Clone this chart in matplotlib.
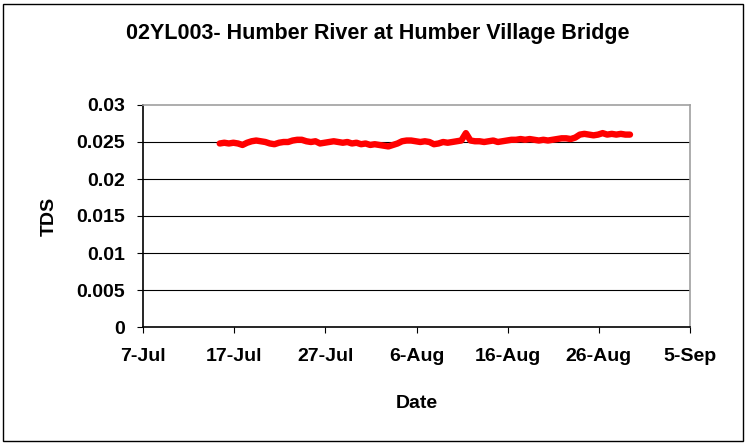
import datetime as dt
import matplotlib
matplotlib.use("Agg")
import matplotlib.pyplot as plt
from matplotlib.patches import Rectangle

plt.rcParams['font.family'] = ['Liberation Sans', 'DejaVu Sans']

# readings every half day, starting 15-Jul around 10:00
start = dt.datetime(2007, 7, 15, 10, 0)
tds = [
    0.0248, 0.0249, 0.0248, 0.0249, 0.0248, 0.0246,
    0.0249, 0.0251, 0.0252, 0.0251, 0.0250, 0.0248,
    0.0247, 0.0249, 0.0250, 0.0250, 0.0252, 0.0253,
    0.0253, 0.0251, 0.0250, 0.0251, 0.0248, 0.0249,
    0.0250, 0.0251, 0.0250, 0.0249, 0.0250, 0.0248,
    0.0249, 0.0247, 0.0248, 0.0246, 0.0247, 0.0246,
    0.0245, 0.0244, 0.0246, 0.0248, 0.0251, 0.0252,
    0.0252, 0.0251, 0.0250, 0.0251, 0.0250, 0.0247,
    0.0248, 0.0250, 0.0249, 0.0250, 0.0251, 0.0252,
    0.0262, 0.0252, 0.0251, 0.0251, 0.0250, 0.0251,
    0.0252, 0.0250, 0.0251, 0.0252, 0.0253, 0.0253,
    0.0254, 0.0253, 0.0254, 0.0253, 0.0252, 0.0253,
    0.0252, 0.0253, 0.0254, 0.0255, 0.0255, 0.0254,
    0.0256, 0.0260, 0.0261, 0.0260, 0.0259, 0.0260,
    0.0262, 0.0260, 0.0261, 0.0260, 0.0261, 0.0260,
    0.0260,
]
times = [start + dt.timedelta(hours=12 * i) for i in range(len(tds))]

x_ticks = [dt.datetime(2007, 7, 7) + dt.timedelta(days=10 * k) for k in range(7)]
x_labels = ['7-Jul', '17-Jul', '27-Jul', '6-Aug', '16-Aug', '26-Aug', '5-Sep']
y_ticks = [0, 0.005, 0.01, 0.015, 0.02, 0.025, 0.03]
y_labels = ['0', '0.005', '0.01', '0.015', '0.02', '0.025', '0.03']

fig = plt.figure(figsize=(7.47, 4.44), dpi=100)
ax = fig.add_axes([143 / 747, 1 - 327 / 444, 547 / 747, 222 / 444])

ax.plot(times, tds, color='#FF0000', lw=4.6, solid_capstyle='round')

ax.set_xlim(x_ticks[0], x_ticks[-1])
ax.set_ylim(0, 0.03)
ax.set_xticks(x_ticks)
ax.set_xticklabels(x_labels)
ax.set_yticks(y_ticks)
ax.set_yticklabels(y_labels)
for y in y_ticks[1:-1]:
    ax.axhline(y, color='black', lw=0.8, zorder=0)

ax.tick_params(direction='out', length=4, width=0.8, labelsize=14)
ax.tick_params(axis='x', pad=11)
ax.tick_params(axis='y', pad=9)
for lab in ax.get_xticklabels() + ax.get_yticklabels():
    lab.set_fontweight('bold')

ax.spines['left'].set_color('black')
ax.spines['bottom'].set_color('black')
ax.spines['top'].set_color('#A0A0A0')
ax.spines['right'].set_color('#A0A0A0')
for s in ax.spines.values():
    s.set_linewidth(1.2)

ax.set_xlabel('Date', fontsize=14, fontweight='bold', labelpad=22)
ax.set_ylabel('TDS', fontsize=14, fontweight='bold', labelpad=13)
fig.text(378 / 747, 1 - 33 / 444, '02YL003- Humber River at Humber Village Bridge',
         ha='center', va='center', fontsize=15.5, fontweight='bold')

# outer chart border
fig.patches.append(Rectangle((3 / 747, 3 / 444), 740 / 747, 437 / 444,
                             transform=fig.transFigure, fill=False,
                             edgecolor='black', lw=1))

fig.savefig('out.png', dpi=100)
